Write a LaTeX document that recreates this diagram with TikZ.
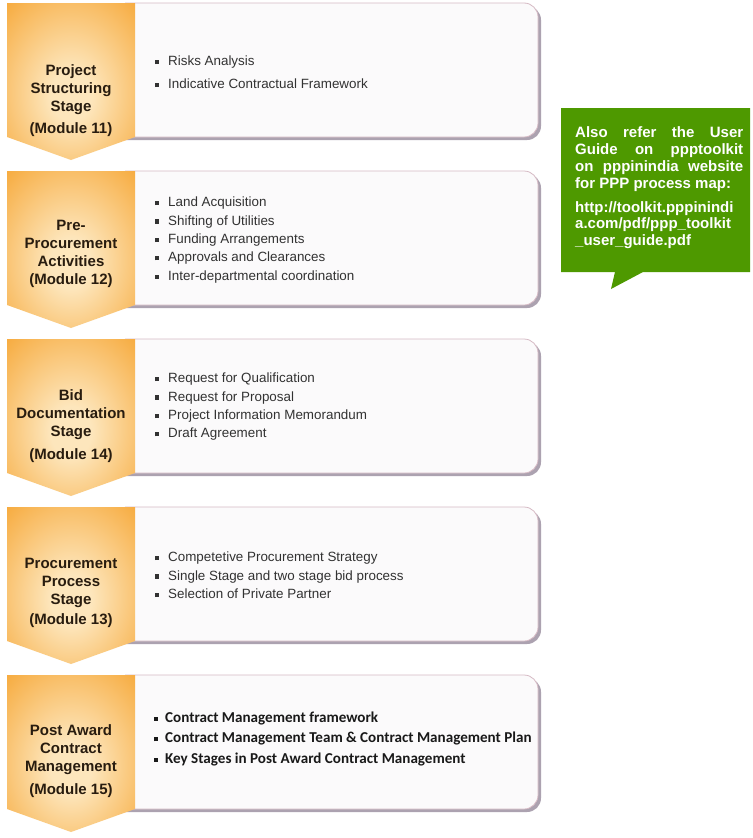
\documentclass[tikz,border=0pt]{standalone}
\usepackage{fontspec}
\setmainfont{Liberation Sans}
\newfontfamily\calfont{Carlito}
\definecolor{chin}{RGB}{253,230,188}
\definecolor{chout}{RGB}{246,166,52}
\definecolor{boxfill}{RGB}{251,250,251}
\definecolor{boxline}{RGB}{214,186,196}
\definecolor{boxshadow}{RGB}{172,162,176}
\definecolor{bultext}{RGB}{50,50,50}
\definecolor{chevtext}{RGB}{40,28,15}
\definecolor{notegreen}{RGB}{78,153,0}
\pgfdeclareradialshading{chevshade}{\pgfpoint{0bp}{-5bp}}{color(0bp)=(chin); color(8bp)=(chin); color(40bp)=(chout); color(70bp)=(chout)}
\newcommand\sqbul{\makebox[13bp][l]{\rule[1.5bp]{4.2bp}{4.2bp}}}
\newcommand\calbul{\makebox[11bp][l]{\rule[1.5bp]{4.2bp}{4.2bp}}}
\newcommand\lst{\rule[-3bp]{0pt}{13bp}}
\newcommand\cst{\rule[-4bp]{0pt}{15bp}}
\newcommand\stageshape[1]{%
  \begin{scope}[shift={(0,#1)}]
    \fill[boxshadow,rounded corners=14bp] (125,3) -- (541,3) -- (541,137) -- (125,137);
    \fill[boxfill,rounded corners=14bp] (125,0) -- (538,0) -- (538,134) -- (125,134);
    \draw[boxline,line width=0.8bp,rounded corners=14bp] (125,0) -- (538,0) -- (538,134) -- (125,134);
    \shade[shading=chevshade] (7,0) -- (135,0) -- (135,134) -- (71,157) -- (7,134) -- cycle;
  \end{scope}}
\tikzset{
  chevlabel/.style={anchor=north, align=center, inner sep=0pt, text=chevtext,
    font=\bfseries\fontsize{15bp}{18.2bp}\selectfont},
  listlabel/.style={anchor=north west, align=left, inner sep=0pt, text=bultext,
    font=\fontsize{13.4bp}{18.4bp}\selectfont},
  callist/.style={anchor=north west, align=left, inner sep=0pt, text=black!90,
    font=\calfont\bfseries\fontsize{15.1bp}{20.5bp}\selectfont},
  notetext/.style={anchor=north west, align=left, inner sep=0pt, text=white,
    font=\bfseries\fontsize{15bp}{16.8bp}\selectfont}
}
\begin{document}
\begin{tikzpicture}[x=1bp,y=-1bp]
\useasboundingbox[fill=white] (0,0) rectangle (753,838);

\stageshape{3}
\stageshape{171}
\stageshape{339}
\stageshape{507}
\stageshape{675}

% chevron labels
\node[chevlabel] (chev1) at (71,64) {\cst Project\\\cst Structuring\\\cst Stage\\[3.8bp]\cst (Module 11)};
\node[chevlabel] (chev2) at (71,219) {\cst Pre-\\\cst Procurement\\\cst Activities\\\cst (Module 12)};
\node[chevlabel] (chev3) at (71,389) {\cst Bid\\\cst Documentation\\\cst Stage\\[4.5bp]\cst (Module 14)};
\node[chevlabel] (chev4) at (71,557) {\cst Procurement\\\cst Process\\\cst Stage\\[1.5bp]\cst (Module 13)};
\node[chevlabel] (chev5) at (71,724) {\cst Post Award\\\cst Contract\\\cst Management\\[4.5bp]\cst (Module 15)};

% lists
\node[listlabel] (list1) at (155,55.5) {\lst\sqbul Risks Analysis\\[4.6bp]\lst\sqbul Indicative Contractual Framework};
\node[listlabel] (list2) at (155,196.5) {\lst\sqbul Land Acquisition\\\lst\sqbul Shifting of Utilities\\\lst\sqbul Funding Arrangements\\\lst\sqbul Approvals and Clearances\\\lst\sqbul Inter-departmental coordination};
\node[listlabel] (list3) at (155,372.5) {\lst\sqbul Request for Qualification\\\lst\sqbul Request for Proposal\\\lst\sqbul Project Information Memorandum\\\lst\sqbul Draft Agreement};
\node[listlabel] (list4) at (155,551.5) {\lst\sqbul Competetive Procurement Strategy\\\lst\sqbul Single Stage and two stage bid process\\\lst\sqbul Selection of Private Partner};
\node[callist] (list5) at (154,711.5) {\lst\calbul Contract Management framework\\\lst\calbul Contract Management Team \& Contract Management Plan\\\lst\calbul Key Stages in Post Award Contract Management};

% green callout
\fill[notegreen] (561,108) -- (750,108) -- (750,272) -- (643,272) -- (611,289) -- (615,272) -- (561,272) -- cycle;
\node[notetext] (note) at (575,126.4) {\cst\makebox[168bp][s]{Also refer the User}\\
\cst\makebox[168bp][s]{Guide on ppptoolkit}\\
\cst\makebox[168bp][s]{on pppinindia website}\\
\cst for PPP process map:\\[7.2bp]
\cst http://toolkit.pppinindi\\
\cst a.com/pdf/ppp\_toolkit\\
\cst \_user\_guide.pdf};
\end{tikzpicture}
\end{document}
